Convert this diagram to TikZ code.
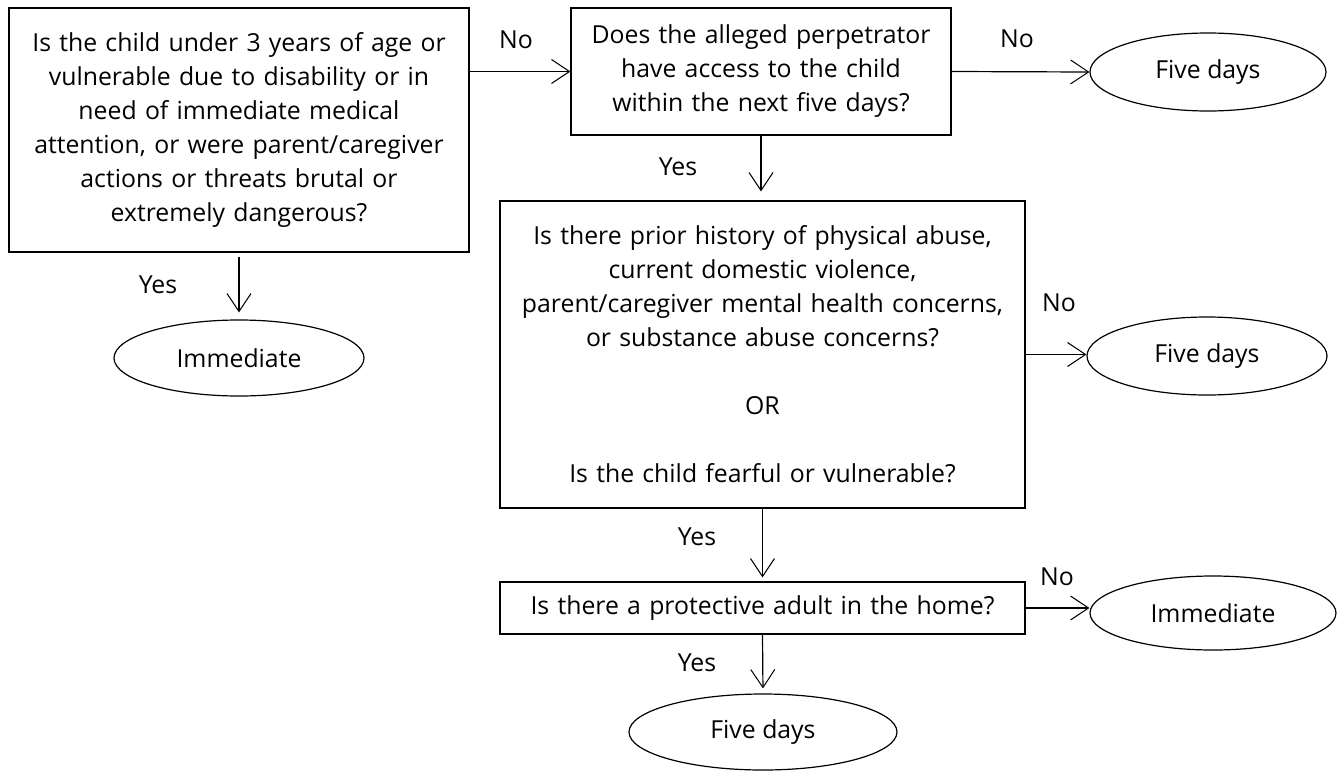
\documentclass[tikz,border=0pt]{standalone}
\usepackage{fontspec}
\setmainfont{Open Sans}
\usetikzlibrary{shapes,arrows.meta,positioning,calc}

\begin{document}
\begin{tikzpicture}[x=0.5pt, y=-0.5pt,
    every node/.style={font=\fontsize{12.4}{17}\selectfont},
    qbox/.style={draw, rectangle, align=center, inner sep=0pt, line width=0.6pt},
    outcome/.style={draw, ellipse, inner sep=0pt, line width=0.6pt},
    flow/.style={line width=0.6pt, -{Straight Barb[length=9pt, width=12pt, line width=0.5pt]}},
    lbl/.style={inner sep=1pt}]
    \useasboundingbox (0,0) rectangle (1340,772);

    % Questions
    \node[qbox, minimum width=230pt, minimum height=122pt, text width=228pt] (qA) at (239,130)
        {Is the child under 3 years of age or\\ vulnerable due to disability or in\\ need of immediate medical\\ attention, or were parent/caregiver\\ actions or threats brutal or\\ extremely dangerous?};
    \node[qbox, minimum width=190pt, minimum height=63.5pt, text width=188pt] (qB) at (761,71.5)
        {Does the alleged perpetrator\\ have access to the child\\ within the next five days?};
    \node[qbox, minimum width=262.5pt, minimum height=153.5pt, text width=260pt] (qC) at (762.5,354.5)
        {Is there prior history of physical abuse,\\ current domestic violence,\\ parent/caregiver mental health concerns,\\ or substance abuse concerns?\\[17pt] OR\\[17pt] Is the child fearful or vulnerable?};
    \node[qbox, minimum width=262.5pt, minimum height=26pt, text width=260pt] (qD) at (762.5,608)
        {Is there a protective adult in the home?};

    % Outcomes
    \node[outcome, minimum width=118pt, minimum height=39pt] (fiveA) at (1208,72) {Five days};
    \node[outcome, minimum width=125pt, minimum height=38pt] (nowA) at (239,358) {Immediate};
    \node[outcome, minimum width=120pt, minimum height=39pt] (fiveB) at (1207,356) {Five days};
    \node[outcome, minimum width=123pt, minimum height=37pt] (nowB) at (1213,613) {Immediate};
    \node[outcome, minimum width=134pt, minimum height=38pt] (fiveC) at (763,732) {Five days};

    % Connectors
    \draw[flow] (qA.east |- qB.west) -- (qB.west);
    \draw[flow] (qB.east) -- (fiveA.west);
    \draw[flow, shorten <=2pt, shorten >=3.5pt] (qA.south) -- (nowA.north);
    \draw[flow, shorten >=4.5pt] (qB.south) -- (qB.south |- qC.north);
    \draw[flow, shorten >=2pt] (qC.south) -- (qD.north);
    \draw[flow, shorten >=2.5pt] (qD.south) -- (fiveC.north);
    \draw[flow] (qC.east) -- (qC.east -| fiveB.west);
    \draw[flow] (qD.east) -- (qD.east -| nowB.west);

    % Labels
    \node[lbl] (noA) at (516,40) {No};
    \node[lbl] (noB) at (1017,39) {No};
    \node[lbl] (yesA) at (158,285) {Yes};
    \node[lbl] (yesB) at (678,167) {Yes};
    \node[lbl] (noC) at (1059,303) {No};
    \node[lbl] (yesC) at (697,537) {Yes};
    \node[lbl] (noD) at (1057,577) {No};
    \node[lbl] (yesD) at (697,663) {Yes};
\end{tikzpicture}
\end{document}
